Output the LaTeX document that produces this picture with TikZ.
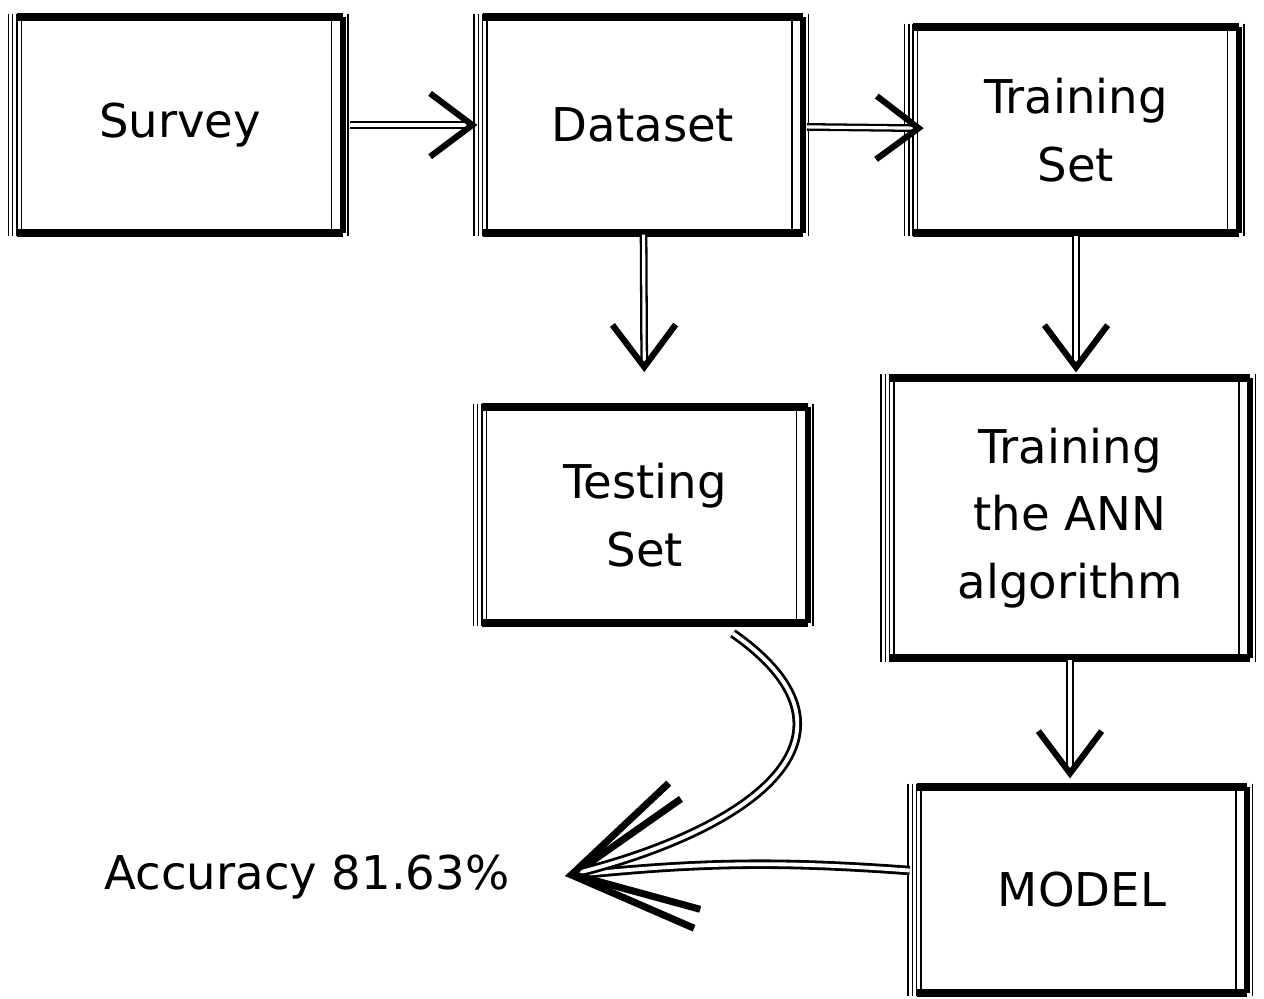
\documentclass[tikz,border=0pt]{standalone}
\usepackage{fontspec}
\setmainfont{DejaVu Sans}
\usetikzlibrary{arrows.meta}

\tikzset{
	sketchbox/.style = {align = center, font = \fontsize{26.5}{38.6}\selectfont},
	sketcharrow/.style = {line width = 1.3pt, double, double distance = 1.8pt,
		-{Straight Barb[length = 24pt, width = 36pt, line width = 3.5pt]}},
	bigarrow/.style = {line width = 1.6pt, double, double distance = 2.2pt,
		-{Straight Barb[length = 66pt, width = 74pt, line width = 4pt]}},
}

\begin{document}
\begin{tikzpicture}[x = 0.02cm, y = -0.02cm]
	\useasboundingbox (0, 0) rectangle (1264, 998);
	\node (survey)   at ( 180, 125)	[sketchbox, minimum width = 6.5cm, minimum height = 4.3cm]	{Survey};
	\node (dataset)  at ( 643, 125)	[sketchbox, minimum width = 6.4cm, minimum height = 4.3cm]	{Dataset};
	\node (trainset) at (1076, 130)	[sketchbox, minimum width = 6.5cm, minimum height = 4.1cm]	{Training\\Set};
	\node (testset)  at ( 645, 515)	[sketchbox, minimum width = 6.5cm, minimum height = 4.3cm]	{Testing\\Set};
	\node (ann)      at (1070, 518)	[sketchbox, minimum width = 7.2cm, minimum height = 5.6cm]	{Training\\the ANN\\algorithm};
	\node (model)    at (1082, 890)	[sketchbox, minimum width = 6.6cm, minimum height = 4.1cm]	{MODEL};
	\node (acc)      at ( 307, 877)	[sketchbox]	{Accuracy 81.63\%};
	\coordinate (hit) at (565, 876);
	% hand drawn frames
	\foreach \n in {survey, dataset, trainset, testset, ann, model} {
		\draw[line width = 4.5pt] (\n.north west) -- (\n.north east);
		\draw[line width = 4.5pt] (\n.south west) -- (\n.south east);
		\draw[line width = 3.5pt] (\n.north east) -- (\n.south east);
		\foreach \s in {-5pt, -2.5pt, 0pt, 2.5pt}
			\draw[line width = 0.8pt] ([xshift = \s, yshift = 2pt]\n.north west) -- ([xshift = \s, yshift = -2pt]\n.south west);
		\foreach \s in {-6.5pt, 3pt}
			\draw[line width = 0.8pt] ([xshift = \s, yshift = 2pt]\n.north east) -- ([xshift = \s, yshift = -2pt]\n.south east);
	}
	\draw[sketcharrow, shorten < = 4pt, shorten > = 3pt] (survey) -- (dataset);
	\draw[sketcharrow, shorten < = 2pt, shorten > = -6pt] (dataset) -- (trainset);
	\draw[sketcharrow, shorten < = 1pt, shorten > = 20pt] (dataset) -- (testset);
	\draw[sketcharrow, shorten < = 2pt, shorten > = 3pt] (trainset) -- (trainset |- ann.north);
	\draw[sketcharrow, shorten < = 1pt, shorten > = 5pt] (ann) -- (ann |- model.north);
	\draw[bigarrow, shorten < = 4pt] (model) to[bend right = 5] (hit);
	\draw[bigarrow] ([xshift = 50pt, yshift = -6pt]testset.south) to[out = -35, in = 14, looseness = 1.6] (hit);
\end{tikzpicture}
\end{document}
